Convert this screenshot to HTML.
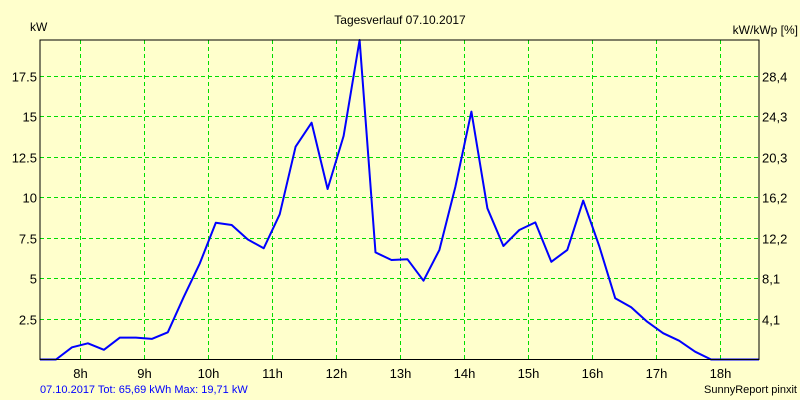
<!DOCTYPE html>
<html><head><meta charset="utf-8"><style>
html,body{margin:0;padding:0;background:#ffffcc;}
svg{display:block;font-family:"Liberation Sans",Arial,sans-serif;}
</style></head><body>
<svg id="chart" width="800" height="400">
<rect x="0" y="0" width="800" height="400" fill="#ffffcc"/>
<text x="400" y="24" font-size="12" text-anchor="middle">Tagesverlauf 07.10.2017</text>
<text x="30" y="31" font-size="12">kW</text>
<text x="798" y="34" font-size="12" text-anchor="end">kW/kWp [%]</text>
<g id="grid"></g>
<g id="labels"></g>
<polyline id="series" fill="none" stroke="#0000ff" stroke-width="2" stroke-linejoin="round"/>
<rect x="40" y="40" width="719" height="319.5" fill="none" stroke="#000" stroke-width="1"/>
<text x="40" y="393" font-size="11" fill="#0000ff">07.10.2017 Tot: 65,69 kWh Max: 19,71 kW</text>
<text x="797" y="393" font-size="11" text-anchor="end">SunnyReport pinxit</text>
</svg>
<script>
const hourTicks = [8,9,10,11,12,13,14,15,16,17,18];
const yTicks = [2.5,5,7.5,10,12.5,15,17.5];
const yTickLabels = ["2.5","5","7.5","10","12.5","15","17.5"];
const rightTickLabels = ["4,1","8,1","12,2","16,2","20,3","24,3","28,4"];
const startHour = 7 + 22/60;
const stepHours = 0.25;
const powerValues = [0,0,0.75,1.0,0.6,1.35,1.35,1.27,1.68,3.87,5.93,8.44,8.3,7.41,6.86,8.96,13.13,14.61,10.52,13.79,19.71,6.61,6.14,6.18,4.86,6.76,10.66,15.29,9.33,7.0,7.99,8.46,6.03,6.76,9.8,7.0,3.78,3.22,2.33,1.62,1.16,0.48,0,0,0,0];
const NS="http://www.w3.org/2000/svg";
const L=40,R=759,T=40,B=359.5,H0=startHour,H1=18+37/60,YMAX=19.71;
const xs=h=>L+(h-H0)/(H1-H0)*(R-L);
const ys=v=>B-v/YMAX*(B-T);
const grid=document.getElementById('grid'),labels=document.getElementById('labels');
function mk(tag,attrs,parent){const e=document.createElementNS(NS,tag);for(const k in attrs)e.setAttribute(k,attrs[k]);parent.appendChild(e);return e;}
hourTicks.forEach(h=>{
  const x=Math.round(xs(h))+0.5;
  const l=mk('line',{x1:x,y1:T,x2:x,y2:B,stroke:'#00dd00','stroke-dasharray':'4,3'},grid);
  
  
  const t=mk('text',{x:x,y:378,'font-size':13,'text-anchor':'middle'},labels);
  t.textContent=h+'h';
  
  
});
yTicks.forEach((v,i)=>{
  const y=Math.round(ys(v))+0.5;
  const l=mk('line',{x1:L,y1:y,x2:R,y2:y,stroke:'#00dd00','stroke-dasharray':'4,3'},grid);
  
  
  const t=mk('text',{x:37,y:y+5,'font-size':13,'text-anchor':'end'},labels);
  t.textContent=yTickLabels[i];
  
  
  const t2=mk('text',{x:762,y:y+5,'font-size':13},labels);
  t2.textContent=rightTickLabels[i];
  
  
});
document.getElementById('series').setAttribute('points',powerValues.map((v,i)=>xs(H0+i*stepHours).toFixed(1)+','+ys(v).toFixed(1)).join(' '));
</script>
</body></html>
